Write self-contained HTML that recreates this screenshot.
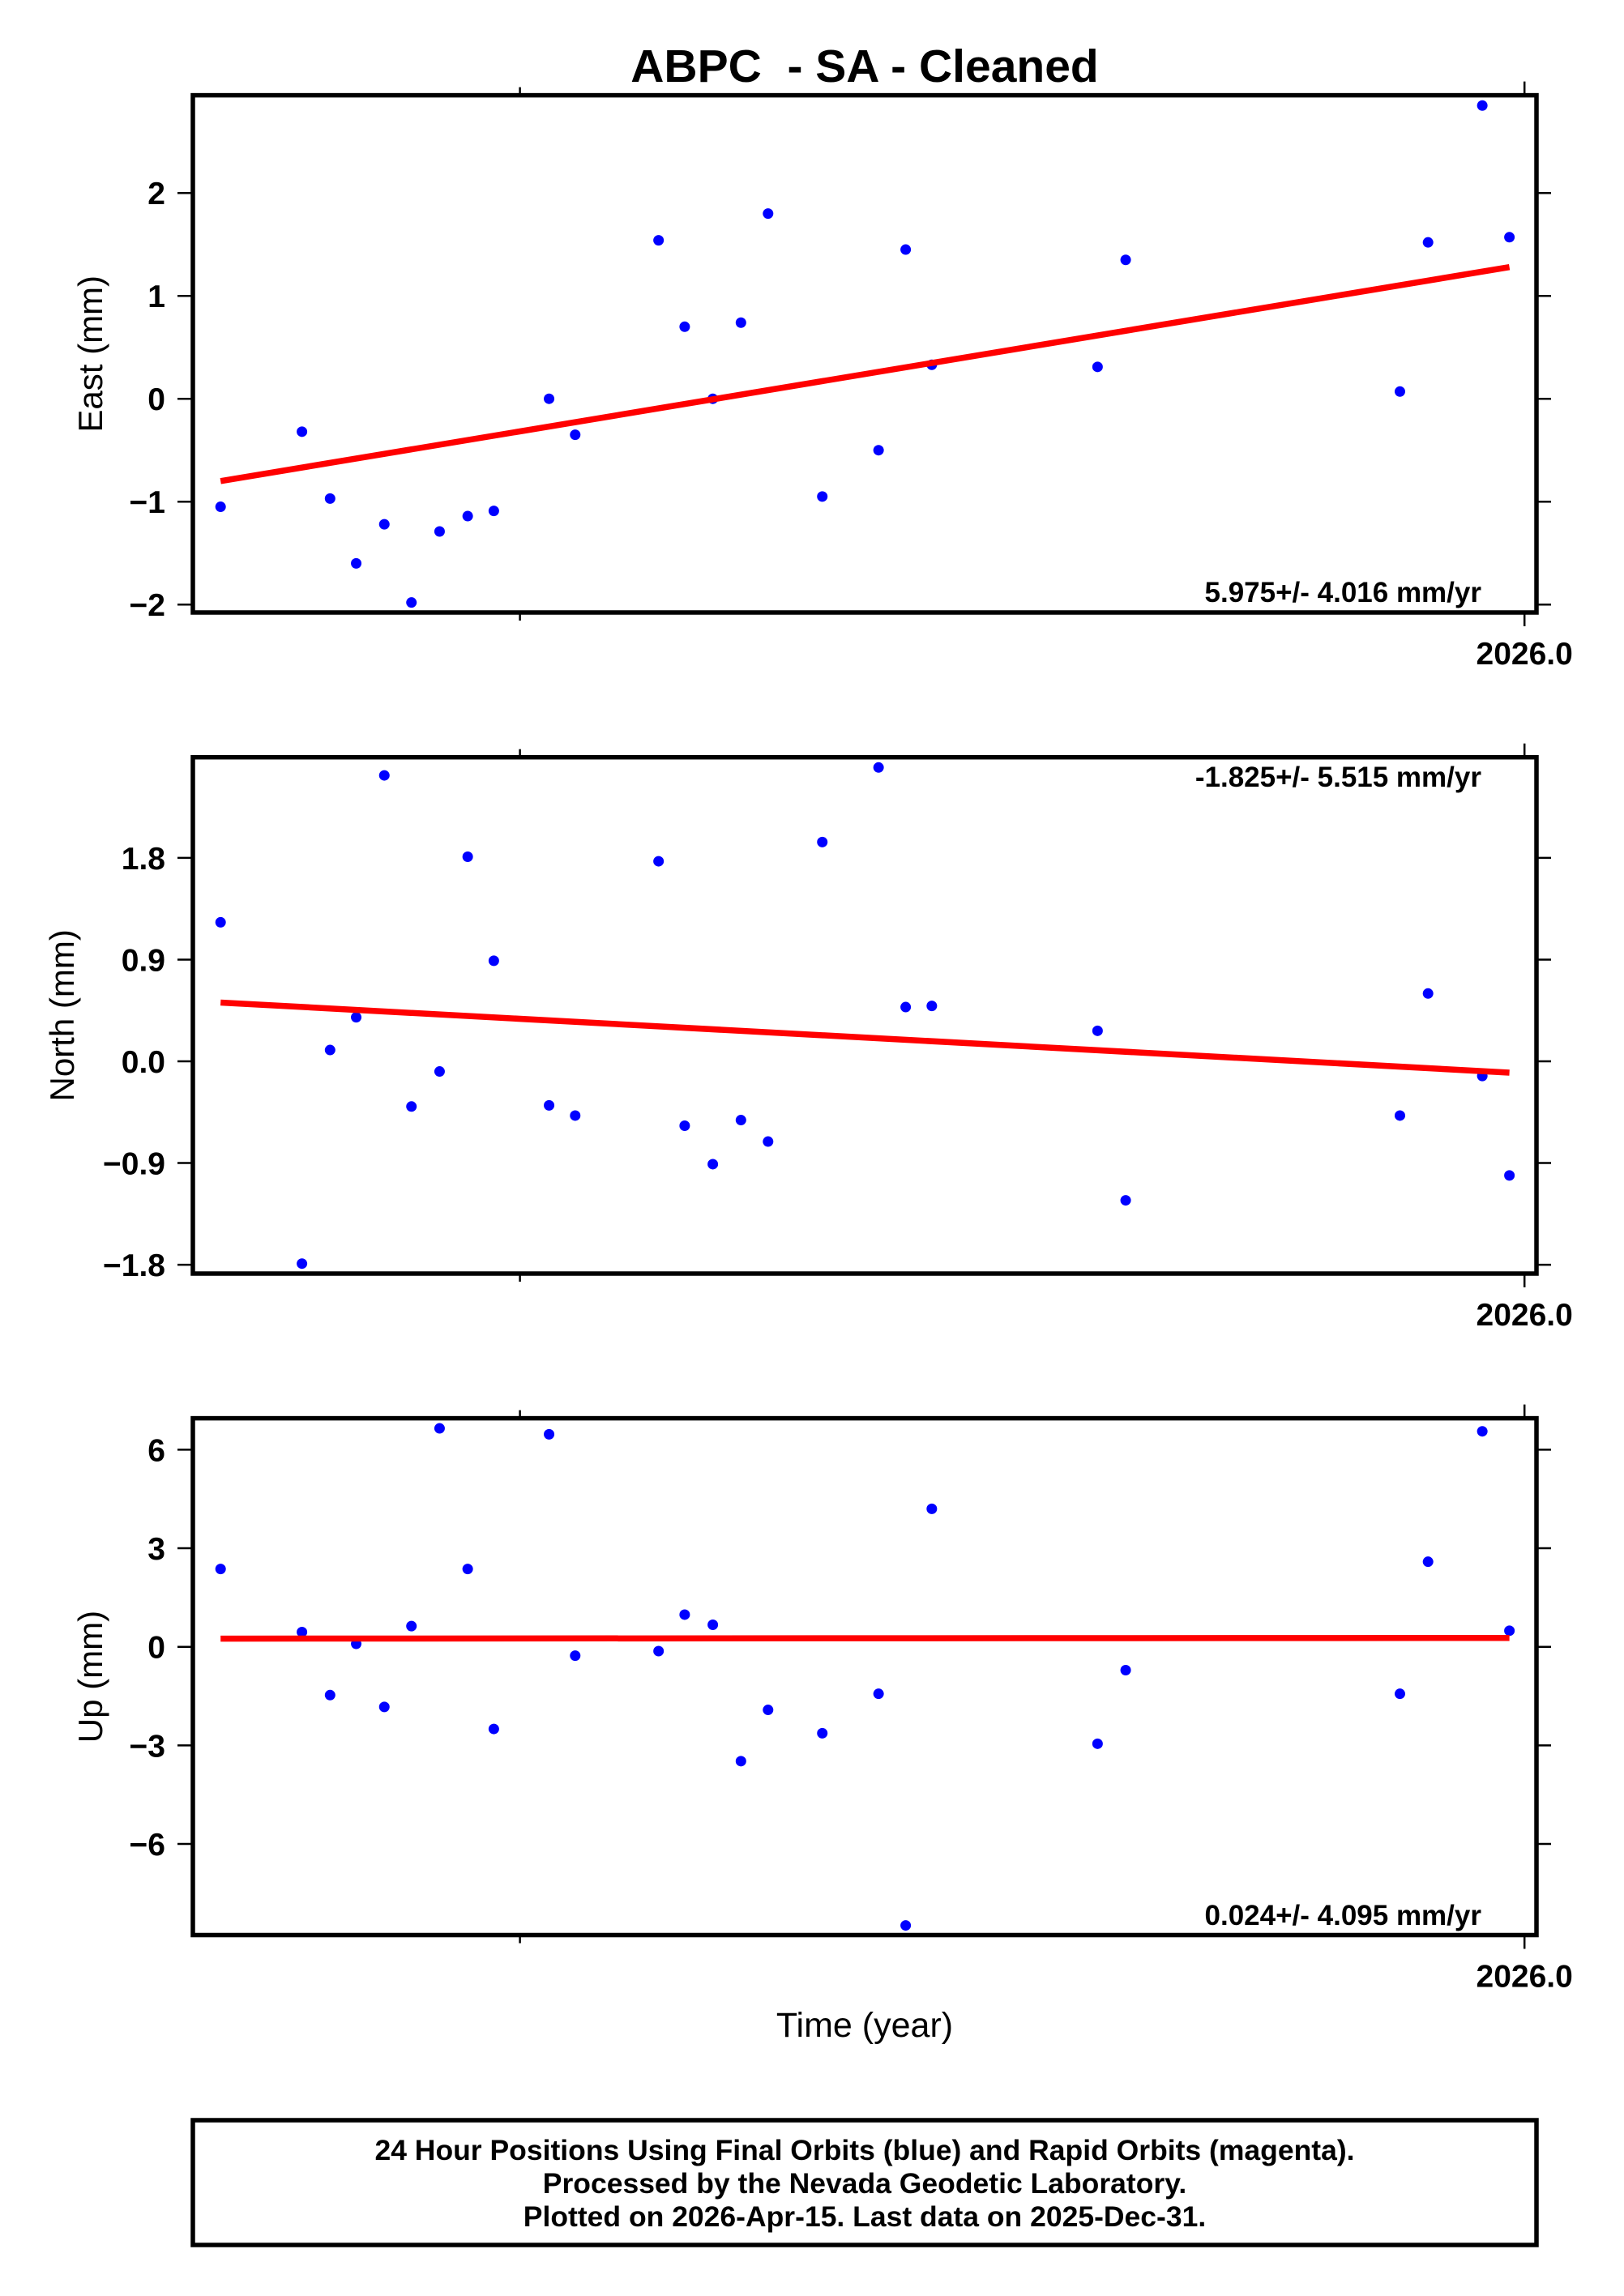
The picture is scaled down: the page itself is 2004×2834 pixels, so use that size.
<!DOCTYPE html>
<html><head><meta charset="utf-8"><style>
html,body{margin:0;padding:0;background:#fff}
svg{display:block}
text{font-family:"Liberation Sans",Arial,sans-serif}
</style></head><body>
<svg id="chart" xmlns="http://www.w3.org/2000/svg" width="2004" height="2834" viewBox="0 0 2004 2834">
<rect x="0" y="0" width="2004" height="2834" fill="#fff"/>
<text x="1067" y="101" text-anchor="middle" font-size="57" font-weight="bold" style="white-space:pre">ABPC  - SA - Cleaned</text>
<g id="panels"></g>
<text x="1067" y="2514" text-anchor="middle" font-size="43">Time (year)</text>
<rect x="238" y="2617" width="1658" height="154" fill="none" stroke="#000" stroke-width="5.5"/>
<text x="1067" y="2666" text-anchor="middle" font-size="35.5" font-weight="bold">24 Hour Positions Using Final Orbits (blue) and Rapid Orbits (magenta).</text>
<text x="1067" y="2707" text-anchor="middle" font-size="35.5" font-weight="bold">Processed by the Nevada Geodetic Laboratory.</text>
<text x="1067" y="2748" text-anchor="middle" font-size="35.5" font-weight="bold">Plotted on 2026-Apr-15. Last data on 2025-Dec-31.</text>
</svg>
<script>
const times=[2024.702,2024.783,2024.811,2024.837,2024.865,2024.892,2024.920,2024.948,2024.974,2025.029,2025.055,2025.138,2025.164,2025.192,2025.220,2025.247,2025.301,2025.357,2025.384,2025.410,2025.575,2025.603,2025.876,2025.904,2025.958,2025.985];
const eastValues=[-1.05,-0.32,-0.97,-1.6,-1.22,-1.98,-1.29,-1.14,-1.09,0.0,-0.35,1.54,0.7,0.0,0.74,1.8,-0.95,-0.5,1.45,0.33,0.31,1.35,0.07,1.52,2.85,1.57];
const northValues=[1.23,-1.79,0.10,0.39,2.53,-0.40,-0.09,1.81,0.89,-0.39,-0.48,1.77,-0.57,-0.91,-0.52,-0.71,1.94,2.60,0.48,0.49,0.27,-1.23,-0.48,0.60,-0.13,-1.01];
const upValues=[2.37,0.45,-1.47,0.09,-1.83,0.63,6.65,2.37,-2.5,6.47,-0.27,-0.13,0.98,0.67,-3.48,-1.92,-2.63,-1.43,-8.48,4.2,-2.95,-0.71,-1.43,2.59,6.56,0.49];
const eastTrend=[-0.80,1.28];
const northTrend=[0.52,-0.10];
const upTrend=[0.25,0.27];
const eastTicks=[2,1,0,-1,-2];
const northTicks=[1.8,0.9,0.0,-0.9,-1.8];
const upTicks=[6,3,0,-3,-6];
const eastTickLabels=["2","1","0","\u22121","\u22122"];
const northTickLabels=["1.8","0.9","0.0","\u22120.9","\u22121.8"];
const upTickLabels=["6","3","0","\u22123","\u22126"];
const xTicks=[2025.0,2026.0];
const xTickLabels=["","2026.0"];
const rates=["5.975+/- 4.016 mm/yr","-1.825+/- 5.515 mm/yr","0.024+/- 4.095 mm/yr"];

const NS="http://www.w3.org/2000/svg";
const L=238,R=1896;
function xs(t){return 641.6+(t-2025.0)*1239.6;}
function mk(tag,attrs,parent){const e=document.createElementNS(NS,tag);for(const k in attrs)e.setAttribute(k,attrs[k]);parent.appendChild(e);return e;}
const root=document.getElementById('panels');
const panels=[
 {key:'east',title:'East (mm)',top:117.6,bot:756,zeroY:492.2,ppu:127,vals:eastValues,trend:eastTrend,ticks:eastTicks,labels:eastTickLabels,rate:rates[0],rateY:743,titleX:112},
 {key:'north',title:'North (mm)',top:934.7,bot:1572,zeroY:1310,ppu:139.5,vals:northValues,trend:northTrend,ticks:northTicks,labels:northTickLabels,rate:rates[1],rateY:971,titleX:77},
 {key:'up',title:'Up (mm)',top:1750.6,bot:2388.5,zeroY:2032.7,ppu:40.55,vals:upValues,trend:upTrend,ticks:upTicks,labels:upTickLabels,rate:rates[2],rateY:2376,titleX:112}
];
panels.forEach(p=>{
 const g=mk('g',{},root);
 
 
 const top=p.top,bot=p.bot;
 const ys=v=>p.zeroY-v*p.ppu;
 p.ticks.forEach((v,i)=>{
  const y=ys(v);
  const t1=mk('line',{x1:219,y1:y,x2:L,y2:y,stroke:'#000','stroke-width':2.5},g);
  
  
  const t2=mk('line',{x1:R,y1:y,x2:1914,y2:y,stroke:'#000','stroke-width':2.5},g);
  
  
  const lb=mk('text',{x:204,y:y+14,'text-anchor':'end','font-size':39,'font-weight':'bold'},g);
  lb.textContent=p.labels[i];
  
  
 });
 xTicks.forEach((t,i)=>{
  const x=xs(t);
  const len=xTickLabels[i]?17:10;
  const a=mk('line',{x1:x,y1:top-len,x2:x,y2:top,stroke:'#000','stroke-width':2.5},g);
  
  
  const b=mk('line',{x1:x,y1:bot,x2:x,y2:bot+len,stroke:'#000','stroke-width':2.5},g);
  
  
  if(xTickLabels[i]){
   const lb=mk('text',{x:x,y:bot+64,'text-anchor':'middle','font-size':39,'font-weight':'bold'},g);
   lb.textContent=xTickLabels[i];
   
   
  }
 });
 const cy=(top+bot)/2;
 const at=mk('text',{x:0,y:0,'text-anchor':'middle','font-size':42,transform:`translate(${p.titleX+14},${cy}) rotate(-90)`},g);
 at.textContent=p.title;
 
 
 const cp=mk('clipPath',{id:'clip-'+p.key},g);
 mk('rect',{x:L,y:top,width:R-L,height:bot-top},cp);
 const pts=mk('g',{'clip-path':`url(#clip-${p.key})`},g);
 p.vals.forEach((v,i)=>{
  const d=mk('circle',{cx:xs(times[i]),cy:ys(v),r:6.5,fill:'#0000ff'},pts);
  
  
 });
 const tl=mk('line',{x1:xs(times[0]),y1:ys(p.trend[0]),x2:xs(times[times.length-1]),y2:ys(p.trend[1]),stroke:'#ff0000','stroke-width':7.5},pts);
 
 
 const fr=mk('rect',{x:L,y:top,width:R-L,height:bot-top,fill:'none',stroke:'#000','stroke-width':5.5},g);
 
 
 const rt=mk('text',{x:1828,y:p.rateY,'text-anchor':'end','font-size':35,'font-weight':'bold'},g);
 rt.textContent=p.rate;
 
 
});
</script>
</body></html>
